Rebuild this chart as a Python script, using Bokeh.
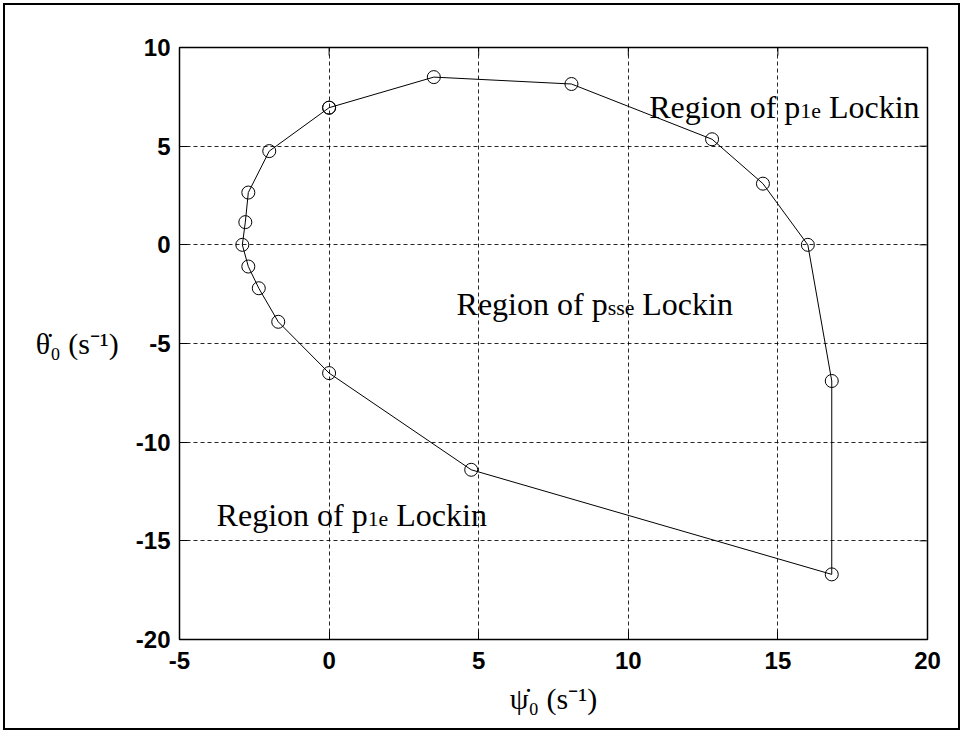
import math

from bokeh.plotting import figure
from bokeh.models import Label, FixedTicker, Range1d
from bokeh.embed import file_html
from bokeh.resources import INLINE

# Lock-in boundary: initial yaw rate (psi dot) vs initial pitch rate (theta dot), s^-1
psi_dot = [0.0, -2.0, -2.7, -2.8, -2.9, -2.7, -2.35, -1.7, 0.0, 4.75,
           16.8, 16.8, 16.0, 14.5, 12.8, 8.1, 3.5, 0.0]
theta_dot = [6.95, 4.75, 2.65, 1.15, 0.0, -1.1, -2.2, -3.9, -6.5, -11.4,
             -16.7, -6.9, 0.0, 3.1, 5.35, 8.15, 8.5, 6.95]

x_ticks = [-5, 0, 5, 10, 15, 20]
y_ticks = [-20, -15, -10, -5, 0, 5, 10]

SERIF = "Liberation Serif"
SANS = "Liberation Sans"

p = figure(width=957, height=727,
           x_range=Range1d(-5, 20), y_range=Range1d(-20, 10),
           output_backend="svg", toolbar_location=None,
           min_border_left=174, min_border_right=35,
           min_border_top=42, min_border_bottom=93)
p.styles = {"border": "2px solid black", "margin": "3px"}
p.background_fill_color = "white"
p.border_fill_color = "white"
p.outline_line_color = "black"
p.outline_line_width = 1.5

# axes: ticks pointing inwards, bold sans tick labels with plain hyphen minus
for ax, ticks in ((p.xaxis[0], x_ticks), (p.yaxis[0], y_ticks)):
    ax.ticker = FixedTicker(ticks=ticks)
    ax.major_label_overrides = {t: str(t) for t in ticks}
    ax.major_tick_in = 8
    ax.major_tick_out = 0
    ax.minor_tick_line_color = None
    ax.axis_line_color = "black"
    ax.major_tick_line_color = "black"
    ax.major_label_text_font = SANS
    ax.major_label_text_font_style = "bold"
    ax.major_label_text_font_size = "24px"
    ax.major_label_text_color = "black"
    ax.axis_label_text_font = SERIF
    ax.axis_label_text_font_style = "normal"
    ax.axis_label_text_font_size = "30px"
    ax.axis_label_text_color = "black"
p.xaxis.major_label_standoff = 12
p.yaxis.major_label_standoff = 9

p.xaxis.axis_label = "\u03c8\u0307\u2080 (s\u207b\u00b9)"
p.xaxis.axis_label_standoff = 10
p.yaxis.axis_label = "\u03b8\u0307\u2080 (s\u207b\u00b9)"
p.yaxis.axis_label_orientation = "horizontal"
p.yaxis.axis_label_standoff = 14

# dashed grid
p.xgrid.ticker = FixedTicker(ticks=x_ticks)
p.ygrid.ticker = FixedTicker(ticks=y_ticks)
for g in (p.xgrid[0], p.ygrid[0]):
    g.grid_line_color = "black"
    g.grid_line_alpha = 0.85
    g.grid_line_dash = "4 3"
    g.grid_line_width = 1

# box ticks on the top and right edges (half of each dash is clipped by the frame)
p.scatter(x_ticks, [p.y_range.end] * len(x_ticks), marker="dash", angle=math.pi / 2,
          size=16, line_color="black", line_width=1)
p.scatter([p.x_range.end] * len(y_ticks), y_ticks, marker="dash",
          size=16, line_color="black", line_width=1)

# boundary
p.line(psi_dot, theta_dot, line_color="black", line_width=1)
p.scatter(psi_dot, theta_dot, marker="circle", size=13,
          fill_color=None, line_color="black", line_width=1)


def region_label(x, y, sub, size=32):
    """'Region of p<sub> Lockin' with a lowered, smaller subscript."""
    sub_scale = 0.68
    w_main = 4.722 * size
    w_sub = {"1e": 0.944, "sse": 1.222}[sub] * sub_scale * size
    pieces = [
        ("Region of p", 0, 0, 1.0),
        (sub, w_main, -4, sub_scale),
        ("Lockin", w_main + w_sub + 0.25 * size, 0, 1.0),
    ]
    for text, dx, dy, scale in pieces:
        p.add_layout(Label(x=x, y=y, x_offset=dx, y_offset=dy, text=text,
                           text_font=SERIF, text_font_size=f"{size * scale:.1f}px",
                           text_color="black", text_baseline="alphabetic",
                           text_align="left"))


region_label(10.7, 7.0, "1e")
region_label(4.26, -2.99, "sse")
region_label(-3.76, -13.7, "1e")

open("out.html", "w").write(file_html(p, INLINE))
